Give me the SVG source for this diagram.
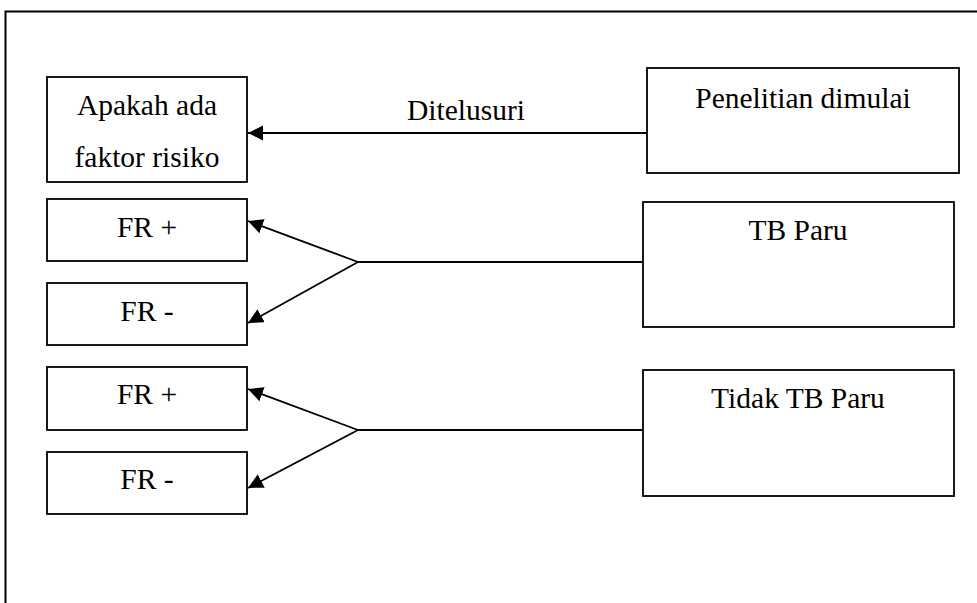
<svg xmlns="http://www.w3.org/2000/svg" width="977" height="603" viewBox="0 0 977 603">
  <defs>
    <style>
      .box { fill: #ffffff; stroke: #000000; stroke-width: 1.8; }
      .frame { fill: none; stroke: #000000; stroke-width: 2; }
      .lbl { font-family: "Liberation Serif", "Times New Roman", serif; font-size: 29.5px; fill: #000000; text-anchor: middle; }
      .wire { fill: none; stroke: #000000; stroke-width: 1.8; }
    </style>
    <marker id="head" markerUnits="userSpaceOnUse" markerWidth="16" markerHeight="16" refX="15" refY="7.5" orient="auto">
      <path d="M0,0 L15,7.5 L0,15 Z" fill="#000000"/>
    </marker>
  </defs>

  <rect width="977" height="603" fill="#ffffff"/>

  <!-- outer frame, running off the right and bottom -->
  <rect class="frame" x="5.5" y="11.5" width="1000" height="700"/>

  <g id="connectors">
    <line class="wire" x1="647" y1="133" x2="248" y2="133" marker-end="url(#head)"/>
    <text class="lbl" x="466" y="120">Ditelusuri</text>

    <line class="wire" x1="648" y1="262" x2="358" y2="262"/>
    <line class="wire" x1="358" y1="262" x2="248" y2="221" marker-end="url(#head)"/>
    <line class="wire" x1="358" y1="262" x2="248" y2="323" marker-end="url(#head)"/>

    <line class="wire" x1="648" y1="430" x2="358" y2="430"/>
    <line class="wire" x1="358" y1="430" x2="248" y2="389" marker-end="url(#head)"/>
    <line class="wire" x1="358" y1="430" x2="248" y2="488" marker-end="url(#head)"/>
  </g>

  <g id="node-faktor">
    <rect class="box" x="47" y="77" width="200" height="105"/>
    <text class="lbl" x="147" y="115">Apakah ada</text>
    <text class="lbl" x="147" y="167">faktor risiko</text>
  </g>

  <g id="node-mulai">
    <rect class="box" x="647" y="68" width="312" height="105"/>
    <text class="lbl" x="803" y="108">Penelitian dimulai</text>
  </g>

  <g id="node-fr-plus-1">
    <rect class="box" x="47" y="199" width="200" height="62"/>
    <text class="lbl" x="147" y="237">FR +</text>
  </g>

  <g id="node-fr-min-1">
    <rect class="box" x="47" y="283" width="200" height="62"/>
    <text class="lbl" x="147" y="321">FR -</text>
  </g>

  <g id="node-tb">
    <rect class="box" x="643" y="202" width="311" height="125"/>
    <text class="lbl" x="798" y="240">TB Paru</text>
  </g>

  <g id="node-fr-plus-2">
    <rect class="box" x="47" y="367" width="200" height="63"/>
    <text class="lbl" x="147" y="404">FR +</text>
  </g>

  <g id="node-fr-min-2">
    <rect class="box" x="47" y="452" width="200" height="62"/>
    <text class="lbl" x="147" y="489">FR -</text>
  </g>

  <g id="node-tidak-tb">
    <rect class="box" x="643" y="370" width="311" height="126"/>
    <text class="lbl" x="798" y="408">Tidak TB Paru</text>
  </g>
</svg>
